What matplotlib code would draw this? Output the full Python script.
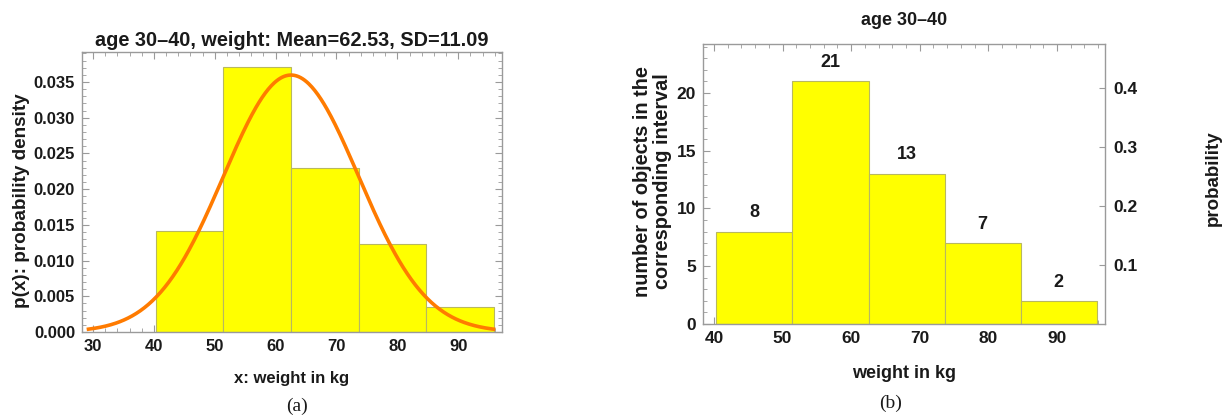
import numpy as np
from matplotlib import pyplot as plt
from matplotlib.ticker import MultipleLocator

# data
mean = 62.53
sd = 11.09
counts = [8, 21, 13, 7, 2]
# bin edges sit at mean + k*SD, k = -2..3
edges = [mean + k * sd for k in range(-2, 4)]
n_total = sum(counts)
density = [c / (n_total * sd) for c in counts]

plt.rcParams['font.family'] = ['Liberation Sans', 'DejaVu Sans']
plt.rcParams['font.weight'] = 'bold'
plt.rcParams['axes.labelweight'] = 'bold'
plt.rcParams['axes.titleweight'] = 'bold'
txt = '#1a1a1a'
spine = '#9a9a9a'

fig = plt.figure(figsize=(12.26, 4.17), dpi=100)

def style(ax):
    for s in ax.spines.values():
        s.set_color(spine)
        s.set_linewidth(1.0)
    ax.tick_params(which='both', direction='in', color=spine, labelcolor=txt,
                   labelsize=12, top=True)
    ax.tick_params(which='major', length=5, width=0.8, pad=5)
    ax.tick_params(which='minor', length=3, width=0.6)

#(a) probability density with normal curve
ax1 = fig.add_axes([0.0669, 0.2038, 0.3426, 0.6715])
widths = np.diff(edges)
ax1.bar(edges[:-1], density, width=widths, align='edge', color='#ffff00',
        edgecolor='#b8b860', linewidth=0.8, zorder=2)
xs = np.linspace(mean - 3 * sd, mean + 3 * sd, 400)
pdf = np.exp(-0.5 * ((xs - mean) / sd) ** 2) / (sd * np.sqrt(2 * np.pi))
ax1.plot(xs, pdf, color='#ff7b00', lw=2.6, zorder=3)
ax1.set_xlim(28.2, 97.2)
ax1.set_ylim(0, 0.0392)
ax1.xaxis.set_major_locator(MultipleLocator(10))
ax1.xaxis.set_minor_locator(MultipleLocator(2))
ax1.yaxis.set_major_locator(MultipleLocator(0.005))
ax1.yaxis.set_minor_locator(MultipleLocator(0.001))
ax1.yaxis.set_major_formatter(plt.FuncFormatter(lambda v, p: '%.3f' % v))
style(ax1)
ax1.tick_params(which='both', right=True)
ax1.set_title('age 30\u201340, weight: Mean=%.2f, SD=%.2f' % (mean, sd),
              fontsize=14.3, color=txt, pad=4)
ax1.set_xlabel('x: weight in kg', fontsize=12, color=txt, labelpad=12)
ax1.set_ylabel('p(x): probability density', fontsize=13.6, color=txt)
ax1.yaxis.set_label_coords(-0.124, 0.468)

#(b) counts with probability axis
ax2 = fig.add_axes([0.5734, 0.2230, 0.3279, 0.6715])
ax2.bar(edges[:-1], counts, width=widths, align='edge', color='#ffff00',
        edgecolor='#b8b860', linewidth=0.8, zorder=2)
for x0, w, c in zip(edges[:-1], widths, counts):
    ax2.text(x0 + w / 2, c + 0.9, str(c), ha='center', va='bottom',
             fontsize=13, color=txt)
ax2.set_xlim(38.4, 97.0)
ymax = 24.24
ax2.set_ylim(0, ymax)
ax2.xaxis.set_major_locator(MultipleLocator(10))
ax2.xaxis.set_minor_locator(MultipleLocator(2))
ax2.yaxis.set_major_locator(MultipleLocator(5))
ax2.yaxis.set_minor_locator(MultipleLocator(1))
style(ax2)
ax2.tick_params(which='major', labelsize=12.5)
ax2.set_title('age 30\u201340', fontsize=13, color=txt, pad=14)
ax2.set_xlabel('weight in kg', fontsize=13, color=txt, labelpad=14)
ax2.set_ylabel('number of objects in the\ncorresponding interval',
               fontsize=14.3, color=txt, linespacing=1.05)
ax2.yaxis.set_label_coords(-0.077, 0.51)

ax3 = ax2.twinx()
ax3.set_ylim(0, ymax / n_total)
ax3.set_yticks([0.1, 0.2, 0.3, 0.4])
for s in ax3.spines.values():
    s.set_visible(False)
ax3.tick_params(direction='in', color=spine, labelcolor=txt, labelsize=12.5,
                length=4, width=0.8, pad=6)
ax3.set_ylabel('probability', fontsize=13.5, color=txt)
ax3.yaxis.set_label_coords(1.248, 0.52)

fig.text(0.242, 0.026, '(a)', fontsize=14, family='Liberation Serif',
         weight='normal', ha='center', va='center', color=txt)
fig.text(0.726, 0.033, '(b)', fontsize=14, family='Liberation Serif',
         weight='normal', ha='center', va='center', color=txt)

fig.savefig('out.png', dpi=100)
